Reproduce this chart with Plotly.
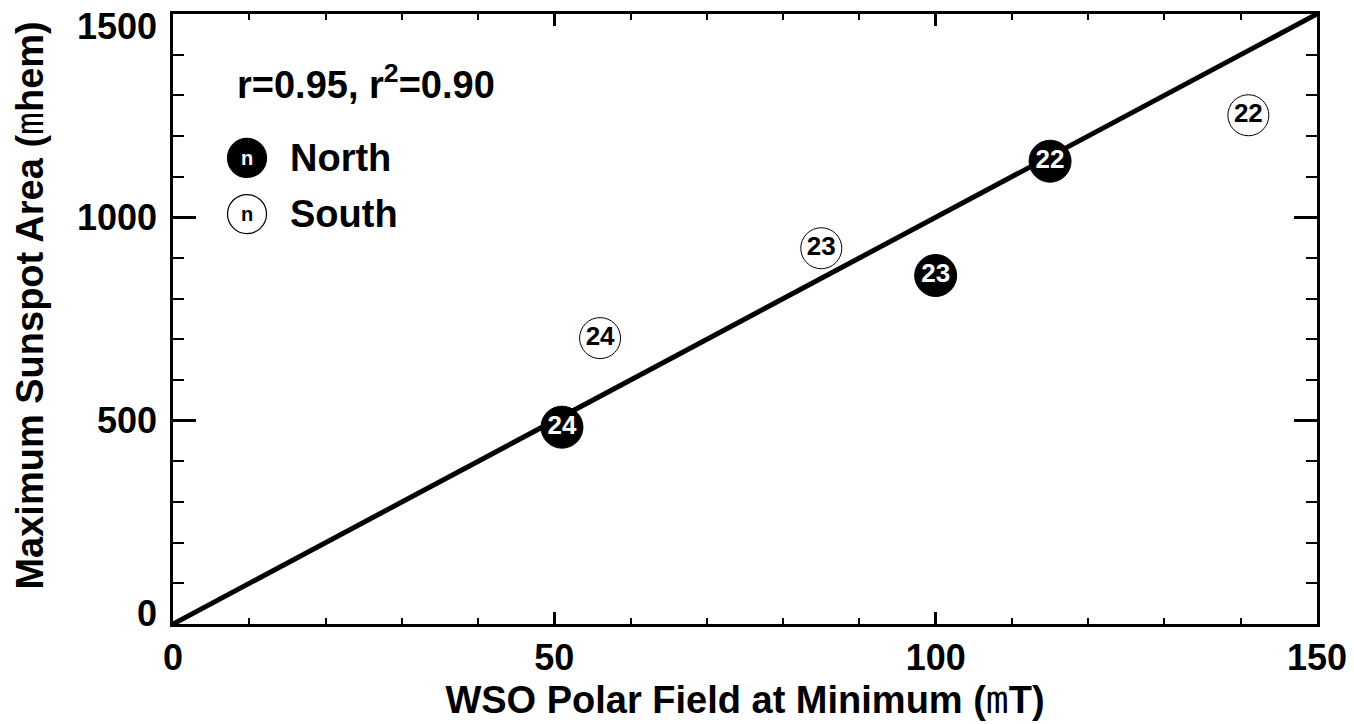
import plotly.graph_objects as go

# ---- data ----
north_x = [51, 100, 115]
north_y = [484, 857, 1138]
north_lbl = ["24", "23", "22"]

south_x = [56, 85, 141]
south_y = [703, 924, 1251]
south_lbl = ["24", "23", "22"]

fit_x = [0, 150]
fit_slope = 10.0
fit_y = [fit_slope * v for v in fit_x]

x_ticks = [0, 50, 100, 150]
y_ticks = [0, 500, 1000, 1500]
y_tick_text = ["0", "500", "1000", "1500"]

FONT = "Liberation Sans"
THIN_M = "<span style=\"font-family:'DejaVu Sans Mono';font-weight:normal\">m</span>"

fig = go.Figure()

fig.add_trace(go.Scatter(x=fit_x, y=fit_y, mode="lines",
                         line=dict(color="black", width=5), showlegend=False,
                         hoverinfo="skip"))

fig.add_trace(go.Scatter(x=south_x, y=south_y, mode="markers+text", text=south_lbl,
                         textposition="middle center",
                         textfont=dict(family=FONT, size=26, color="black", weight="bold"),
                         marker=dict(size=41, color="white", line=dict(color="black", width=1)),
                         showlegend=False))

fig.add_trace(go.Scatter(x=north_x, y=north_y, mode="markers+text", text=north_lbl,
                         textposition="middle center",
                         textfont=dict(family=FONT, size=26, color="white", weight="bold"),
                         marker=dict(size=42, color="black", line=dict(color="black", width=1)),
                         showlegend=False))

axis_common = dict(showline=True, linecolor="black", linewidth=3, mirror="allticks",
                   ticks="inside", tickcolor="black", tickwidth=2.5,
                   showgrid=False, zeroline=False,
                   tickfont=dict(family=FONT, size=36, color="black", weight="bold"))

fig.update_xaxes(range=[0, 150], tickmode="array", tickvals=x_ticks, ticklen=12,
                 minor=dict(dtick=10, tick0=0, ticks="inside", ticklen=6, tickwidth=2,
                            tickcolor="black", showgrid=False),
                 title=dict(text="WSO Polar Field at Minimum (" + THIN_M + "T)",
                            font=dict(family=FONT, size=38, color="black", weight="bold"),
                            standoff=8),
                 **axis_common)

fig.update_yaxes(range=[0, 1500], tickmode="array", tickvals=y_ticks, ticklen=23,
                 showticklabels=False,
                 minor=dict(dtick=100, tick0=0, ticks="inside", ticklen=11, tickwidth=2,
                            tickcolor="black", showgrid=False),
                 **axis_common)

annotations = []
# y tick labels (end labels nudged inward as in the reference)
shifts = {0: 11, 1500: -12}
for v, t in zip(y_ticks, y_tick_text):
    annotations.append(dict(x=0, xref="paper", y=v, yref="y", text=t, showarrow=False,
                            xanchor="right", yanchor="middle", xshift=-14,
                            yshift=shifts.get(v, 0),
                            font=dict(family=FONT, size=36, color="black", weight="bold")))

# y axis title
annotations.append(dict(x=-0.125, xref="paper", y=0.522, yref="paper",
                        text="Maximum Sunspot Area (" + THIN_M + "hem)",
                        textangle=-90, showarrow=False, xanchor="center", yanchor="middle",
                        font=dict(family=FONT, size=38, color="black", weight="bold")))

annotations.append(dict(x=0.054, xref="paper", y=0.8885, yref="paper",
                        text="r=0.95, r<sup>2</sup>=0.90", showarrow=False,
                        xanchor="left", yanchor="middle",
                        font=dict(family=FONT, size=38, color="black", weight="bold")))

leg_x = 0.0647
leg_y = [0.764, 0.672]
leg_names = ["North", "South"]
leg_fill = ["black", "white"]
leg_txtcol = ["white", "black"]
shapes = []
for yy, name, fc, tc in zip(leg_y, leg_names, leg_fill, leg_txtcol):
    shapes.append(dict(type="circle", xref="paper", yref="paper",
                       xsizemode="pixel", ysizemode="pixel",
                       xanchor=leg_x, yanchor=yy, x0=-19.5, x1=19.5, y0=-19.5, y1=19.5,
                       fillcolor=fc, line=dict(color="black", width=1.2)))
    annotations.append(dict(x=leg_x, xref="paper", y=yy, yref="paper", text="n",
                            showarrow=False, xanchor="center", yanchor="middle",
                            font=dict(family=FONT, size=20, color=tc, weight="bold")))
    annotations.append(dict(x=0.1005, xref="paper", y=yy, yref="paper", text=name,
                            showarrow=False, xanchor="left", yanchor="middle",
                            font=dict(family=FONT, size=38, color="black", weight="bold")))

fig.update_layout(width=1354, height=724,
                  margin=dict(l=173, r=37, t=14, b=100, autoexpand=False),
                  paper_bgcolor="white", plot_bgcolor="white",
                  showlegend=False, annotations=annotations, shapes=shapes)

fig.write_html("out.html")
